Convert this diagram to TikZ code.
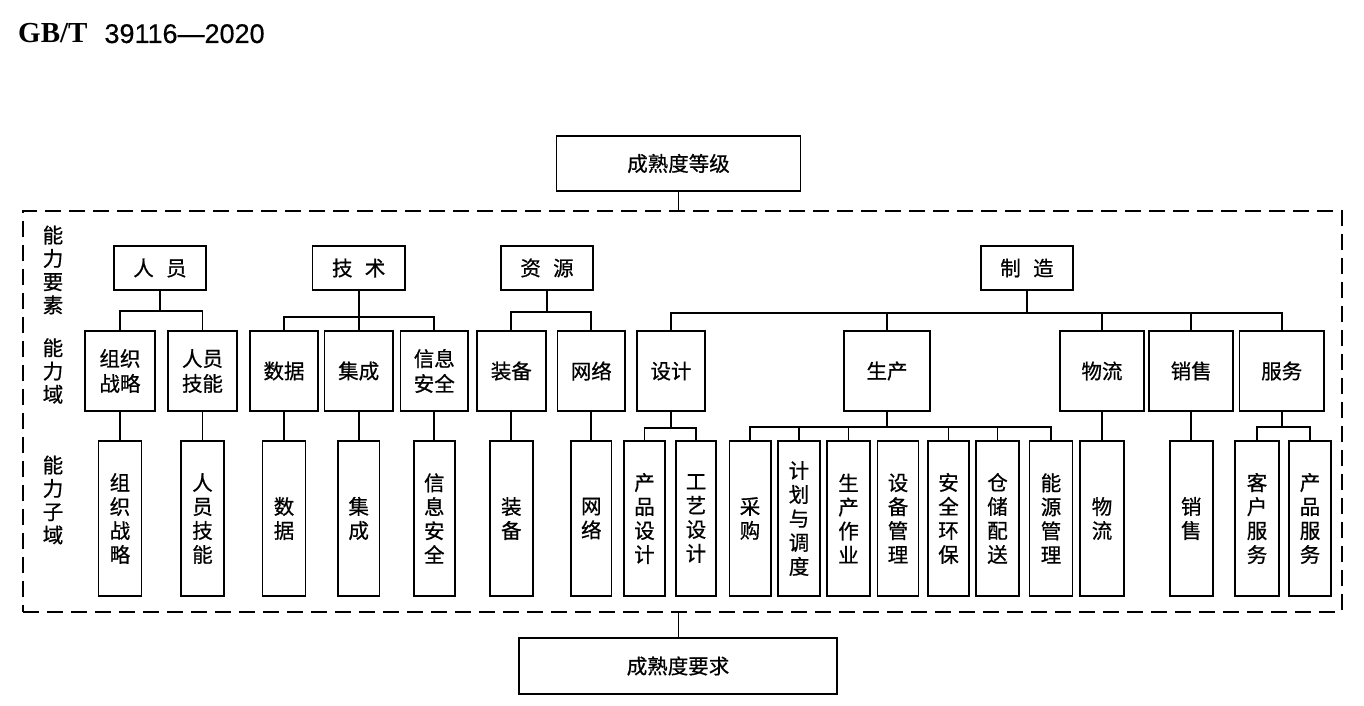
\documentclass[tikz,border=0pt]{standalone}
\usepackage{fontspec}
\setmainfont{Noto Sans CJK SC}[FakeBold=0.7]
\newfontfamily\titleserif{Liberation Serif}
\newfontfamily\titlesans{Liberation Sans}[FakeBold=0.4]
\begin{document}
\begin{tikzpicture}[x=1pt,y=-1pt,
  box/.style={draw=black, line width=1.7pt, inner sep=0pt, align=center, font=\fontsize{20.5}{25}\selectfont},
  lone/.style={box, minimum height=44pt},
  ltwo/.style={box, minimum height=80pt},
  lthree/.style={box, minimum height=155pt, font=\fontsize{20.5}{24}\selectfont},
  side/.style={inner sep=0pt, align=center, font=\fontsize{20.5}{23.3}\selectfont},
  conn/.style={line width=1.7pt},
  frame/.style={draw=black, line width=2pt, dash pattern=on 16pt off 8pt, inner sep=0pt}]
\useasboundingbox (0,0) rectangle (1364,706);

% title
\node[anchor=base west, inner sep=0pt] (title) at (18,43)
  {\fontsize{29}{32}\selectfont\titleserif\bfseries GB/T\hspace{17pt}\fontsize{27}{30}\selectfont\titlesans\mdseries 39116—2020};

% frame
\node[frame, minimum width=1318.4pt, minimum height=401pt] (frame) at (682.5,411) {};

% top and bottom boxes
\node[box, minimum width=244pt, minimum height=55pt] (top) at (678.5,163.5) {成熟度等级};
\node[box, minimum width=318pt, minimum height=55.5pt] (bot) at (678,666) {成熟度要求};
\draw[conn] (top.south) -- (top.south |- frame.north);
\draw[conn] (top.south |- frame.south) -- (top.south |- bot.north);

% side labels
\node[side] (s1) at (53,270) {能\\力\\要\\素};
\node[side] (s2) at (53,371) {能\\力\\域};
\node[side] (s3) at (53,500) {能\\力\\子\\域};

% level 1
\node[lone, minimum width=92.5pt] (ry) at (160,268) {人\hspace{0.6em}员};
\node[lone, minimum width=92.5pt] (js) at (358.7,268) {技\hspace{0.6em}术};
\node[lone, minimum width=92pt] (zy) at (547,268) {资\hspace{0.6em}源};
\node[lone, minimum width=92pt] (zz) at (1027,268) {制\hspace{0.6em}造};

% level 2
\node[ltwo, minimum width=70pt] (a1) at (120,371) {组织\\战略};
\node[ltwo, minimum width=69.5pt] (a2) at (202.5,371) {人员\\技能};
\node[ltwo, minimum width=68pt] (b1) at (284,371) {数据};
\node[ltwo, minimum width=68.5pt] (b2) at (358.7,371) {集成};
\node[ltwo, minimum width=67.6pt] (b3) at (434.3,371) {信息\\安全};
\node[ltwo, minimum width=69pt] (c1) at (511.3,371) {装备};
\node[ltwo, minimum width=67.4pt] (c2) at (591.3,371) {网络};
\node[ltwo, minimum width=68pt] (d1) at (671,371) {设计};
\node[ltwo, minimum width=85.5pt] (d2) at (887,371) {生产};
\node[ltwo, minimum width=84pt] (d3) at (1102,371) {物流};
\node[ltwo, minimum width=84pt] (d4) at (1191.2,371) {销售};
\node[ltwo, minimum width=84.5pt] (d5) at (1281.7,371) {服务};

% level 3
\node[lthree, minimum width=43pt] (e1) at (120,518.5) {组\\织\\战\\略};
\node[lthree, minimum width=43pt] (e2) at (202.5,518.5) {人\\员\\技\\能};
\node[lthree, minimum width=43pt] (e3) at (284,518.5) {数\\据};
\node[lthree, minimum width=41.5pt] (e4) at (358.7,518.5) {集\\成};
\node[lthree, minimum width=41.2pt] (e5) at (434.3,518.5) {信\\息\\安\\全};
\node[lthree, minimum width=43pt] (e6) at (511.3,518.5) {装\\备};
\node[lthree, minimum width=40.6pt] (e7) at (591.3,518.5) {网\\络};
\node[lthree, minimum width=41pt] (f1) at (644.5,518.5) {产\\品\\设\\计};
\node[lthree, minimum width=40.5pt] (f2) at (696,518.5) {工\\艺\\设\\计};
\node[lthree, minimum width=41.3pt] (g1) at (750,518.5) {采\\购};
\node[lthree, minimum width=42.5pt] (g2) at (799,518.5) {计\\划\\与\\调\\度};
\node[lthree, minimum width=43pt] (g3) at (848.5,518.5) {生\\产\\作\\业};
\node[lthree, minimum width=41.2pt] (g4) at (898,518.5) {设\\备\\管\\理};
\node[lthree, minimum width=41pt] (g5) at (948.5,518.5) {安\\全\\环\\保};
\node[lthree, minimum width=43pt] (g6) at (997.5,518.5) {仓\\储\\配\\送};
\node[lthree, minimum width=43pt] (g7) at (1051,518.5) {能\\源\\管\\理};
\node[lthree, minimum width=44pt] (h1) at (1102,518.5) {物\\流};
\node[lthree, minimum width=43pt] (h2) at (1191.2,518.5) {销\\售};
\node[lthree, minimum width=44pt] (k1) at (1257,518.5) {客\\户\\服\\务};
\node[lthree, minimum width=42pt] (k2) at (1310,518.5) {产\\品\\服\\务};

% bus coordinates
\coordinate (yry) at (0,311);
\coordinate (yjs) at (0,317);
\coordinate (yzy) at (0,312);
\coordinate (yzz) at (0,313);
\coordinate (ysj) at (0,428);
\coordinate (ysc) at (0,427);
\coordinate (yfw) at (0,427);

% level 1 -> level 2
\foreach \p/\c/\y in {ry/a1/yry, ry/a2/yry,
                      js/b1/yjs, js/b2/yjs, js/b3/yjs,
                      zy/c1/yzy, zy/c2/yzy,
                      zz/d1/yzz, zz/d2/yzz, zz/d3/yzz, zz/d4/yzz, zz/d5/yzz}
  \draw[conn] (\p.south) |- (\c.north |- \y) -- (\c.north);

% level 2 -> level 3 (single)
\foreach \p/\c in {a1/e1, a2/e2, b1/e3, b2/e4, b3/e5, c1/e6, c2/e7, d3/h1, d4/h2}
  \draw[conn] (\p.south) -- (\c.north);

% level 2 -> level 3 (buses)
\foreach \p/\c/\y in {d1/f1/ysj, d1/f2/ysj,
                      d2/g1/ysc, d2/g2/ysc, d2/g3/ysc, d2/g5/ysc, d2/g6/ysc, d2/g7/ysc,
                      d5/k1/yfw, d5/k2/yfw}
  \draw[conn] (\p.south) |- (\c.north |- \y) -- (\c.north);
\end{tikzpicture}
\end{document}
